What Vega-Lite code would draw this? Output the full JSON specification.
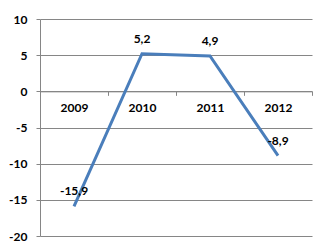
{
  "$schema": "https://vega.github.io/schema/vega-lite/v6.json",
  "width": 272,
  "height": 217,
  "autosize": {"type": "none"},
  "padding": {"left": 40, "top": 19, "right": 18, "bottom": 16},
  "background": "white",
  "config": {
    "locale": {"number": {"decimal": ",", "thousands": " ", "grouping": [3], "currency": ["", " €"], "minus": "-"}},
    "view": {"stroke": null},
    "font": "Lato"
  },
  "data": {"values": [
    {"year": "2009", "value": -15.9},
    {"year": "2010", "value": 5.2},
    {"year": "2011", "value": 4.9},
    {"year": "2012", "value": -8.9}
  ]},
  "encoding": {
    "x": {
      "field": "year", "type": "ordinal",
      "scale": {"type": "band", "paddingInner": 0, "paddingOuter": 0},
      "axis": {
        "title": null, "labelAngle": 0, "offset": -144.67,
        "domainColor": "#868686", "tickColor": "#868686", "tickSize": 4,
        "tickBand": "extent", "labelPadding": 7,
        "labelFont": "Lato", "labelFontSize": 12, "labelFontWeight": "bold", "labelColor": "black",
        "grid": false
      }
    },
    "y": {
      "field": "value", "type": "quantitative",
      "scale": {"domain": [-20, 10], "nice": false, "zero": false},
      "axis": {
        "title": null, "values": [-20, -15, -10, -5, 0, 5, 10], "format": "d",
        "domainColor": "#868686", "tickColor": "#868686", "tickSize": 4,
        "gridColor": "#868686", "gridOpacity": 1, "labelPadding": 9,
        "labelFont": "Lato", "labelFontSize": 12, "labelFontWeight": "bold", "labelColor": "black"
      }
    }
  },
  "layer": [
    {"mark": {"type": "line", "color": "#4A7EBB", "strokeWidth": 3}},
    {"mark": {"type": "text", "dy": -15, "font": "Lato", "fontSize": 12, "fontWeight": "bold", "color": "black"},
     "encoding": {"text": {"field": "value", "type": "quantitative", "format": ".1f"}}}
  ]
}
